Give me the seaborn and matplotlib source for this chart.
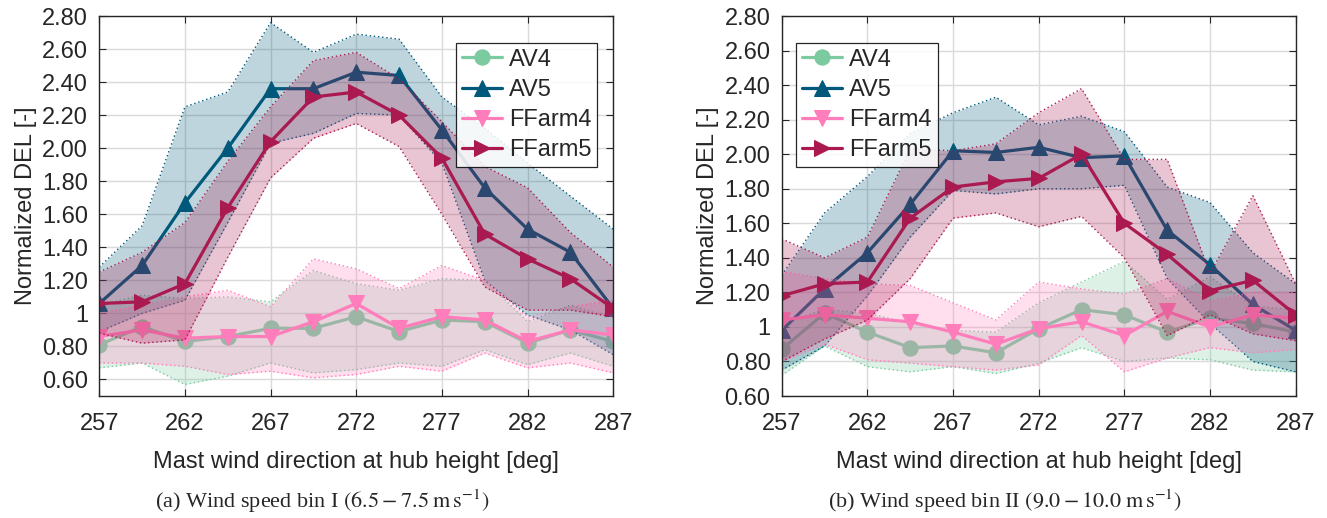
import numpy as np
import matplotlib
matplotlib.use("Agg")
import matplotlib.pyplot as plt
import seaborn as sns
from matplotlib.ticker import FuncFormatter

# ---------------- data ----------------
x_dir = [257, 259.5, 262, 264.5, 267, 269.5, 272, 274.5, 277, 279.5, 282, 284.5, 287]
x_ticks = [257, 262, 267, 272, 277, 282, 287]
series_names = ["AV4", "AV5", "FFarm4", "FFarm5"]

# Wind speed bin I
av4_I = [0.81, 0.92, 0.83, 0.86, 0.91, 0.91, 0.98, 0.89, 0.96, 0.95, 0.82, 0.90, 0.83]
av5_I = [1.06, 1.29, 1.67, 2.00, 2.36, 2.36, 2.46, 2.44, 2.11, 1.76, 1.51, 1.37, 1.03]
ff4_I = [0.86, 0.90, 0.85, 0.86, 0.86, 0.95, 1.06, 0.91, 0.98, 0.96, 0.83, 0.90, 0.87]
ff5_I = [1.06, 1.07, 1.18, 1.64, 2.04, 2.31, 2.34, 2.20, 1.94, 1.48, 1.33, 1.21, 1.03]
av4_I_lo = [0.67, 0.70, 0.57, 0.62, 0.70, 0.64, 0.66, 0.70, 0.68, 0.78, 0.69, 0.76, 0.68]
av4_I_hi = [1.05, 1.11, 1.09, 1.10, 1.07, 1.26, 1.18, 1.14, 1.21, 1.20, 0.95, 1.05, 0.97]
av5_I_lo = [0.89, 1.00, 1.08, 1.55, 2.03, 2.09, 2.21, 2.20, 1.91, 1.20, 0.99, 0.90, 0.75]
av5_I_hi = [1.28, 1.53, 2.25, 2.34, 2.76, 2.58, 2.69, 2.66, 2.31, 2.12, 1.91, 1.71, 1.51]
ff4_I_lo = [0.70, 0.70, 0.68, 0.63, 0.65, 0.61, 0.63, 0.68, 0.65, 0.76, 0.67, 0.70, 0.64]
ff4_I_hi = [1.00, 1.05, 1.10, 1.14, 1.04, 1.33, 1.27, 1.15, 1.29, 1.20, 0.98, 1.04, 1.08]
ff5_I_lo = [0.88, 0.82, 0.84, 1.34, 1.82, 2.06, 2.15, 2.01, 1.60, 1.16, 1.02, 1.02, 0.98]
ff5_I_hi = [1.25, 1.37, 1.55, 1.92, 2.25, 2.53, 2.58, 2.42, 2.16, 1.89, 1.76, 1.49, 1.28]

# Wind speed bin II
av4_II = [0.87, 1.08, 0.97, 0.88, 0.89, 0.85, 0.99, 1.10, 1.07, 0.97, 1.05, 1.02, 0.97]
av5_II = [0.98, 1.22, 1.43, 1.71, 2.02, 2.01, 2.04, 1.98, 1.99, 1.56, 1.36, 1.13, 0.98]
ff4_II = [1.04, 1.07, 1.05, 1.03, 0.97, 0.90, 0.99, 1.03, 0.95, 1.09, 1.00, 1.07, 1.05]
ff5_II = [1.18, 1.25, 1.26, 1.63, 1.81, 1.84, 1.86, 2.00, 1.60, 1.42, 1.21, 1.27, 1.07]
av4_II_lo = [0.72, 0.89, 0.77, 0.74, 0.77, 0.73, 0.79, 0.88, 0.80, 0.82, 0.81, 0.75, 0.74]
av4_II_hi = [1.02, 1.10, 1.08, 1.02, 0.98, 0.97, 1.14, 1.26, 1.38, 1.16, 1.29, 1.12, 1.10]
av5_II_lo = [0.75, 0.89, 1.18, 1.52, 1.79, 1.77, 1.80, 1.80, 1.82, 1.28, 1.02, 0.80, 0.74]
av5_II_hi = [1.30, 1.66, 1.87, 2.12, 2.24, 2.33, 2.17, 2.22, 2.13, 1.81, 1.72, 1.43, 1.25]
ff4_II_lo = [0.80, 0.90, 0.81, 0.79, 0.77, 0.75, 0.78, 0.95, 0.74, 0.82, 0.88, 0.85, 0.87]
ff4_II_hi = [1.32, 1.28, 1.25, 1.24, 1.14, 1.04, 1.26, 1.22, 1.19, 1.28, 1.15, 1.20, 1.20]
ff5_II_lo = [0.80, 0.93, 1.04, 1.28, 1.63, 1.66, 1.58, 1.64, 1.40, 0.95, 1.07, 0.96, 0.92]
ff5_II_hi = [1.51, 1.40, 1.52, 2.03, 2.02, 2.06, 2.24, 2.38, 1.97, 1.97, 1.31, 1.76, 1.25]

y_ticks = [0.6, 0.8, 1.0, 1.2, 1.4, 1.6, 1.8, 2.0, 2.2, 2.4, 2.6, 2.8]
captions = [r"(a) Wind speed bin I $(6.5-7.5\;\mathrm{m\,s^{-1}})$",
            r"(b) Wind speed bin II $(9.0-10.0\;\mathrm{m\,s^{-1}})$"]

# ---------------- style ----------------
sns.set_style("ticks")
plt.rcParams["font.family"] = ["Liberation Sans", "DejaVu Sans"]
plt.rcParams["mathtext.fontset"] = "stix"

colors = ["#7CCAA0", "#00587A", "#FF7DBA", "#AA1A50"]
markers = ["o", "^", "v", ">"]

fig = plt.figure(figsize=(13.27, 5.18), dpi=100)
ax1 = fig.add_axes([0.0748, 0.2355, 0.3873, 0.7336])
ax2 = fig.add_axes([0.5891, 0.2355, 0.3873, 0.7336])

panels = [
    (ax1, [av4_I, av5_I, ff4_I, ff5_I],
     [(av4_I_lo, av4_I_hi), (av5_I_lo, av5_I_hi), (ff4_I_lo, ff4_I_hi), (ff5_I_lo, ff5_I_hi)],
     (0.5, 2.8), (0.969, 0.930), "upper right"),
    (ax2, [av4_II, av5_II, ff4_II, ff5_II],
     [(av4_II_lo, av4_II_hi), (av5_II_lo, av5_II_hi), (ff4_II_lo, ff4_II_hi), (ff5_II_lo, ff5_II_hi)],
     (0.6, 2.8), (0.028, 0.930), "upper left"),
]

fmt = FuncFormatter(lambda v, p: "1" if abs(v - 1.0) < 1e-9 else f"{v:.2f}")

for ax, means, bands, ylim, anchor, loc in panels:
    handles = []
    for i, (name, m, (lo, hi)) in enumerate(zip(series_names, means, bands)):
        c = colors[i]
        ax.fill_between(x_dir, lo, hi, color=c, alpha=0.25, linewidth=0, zorder=2 + 2 * i)
        ax.plot(x_dir, lo, color=c, linestyle=(0, (1, 2)), linewidth=1.0, zorder=2 + 2 * i)
        ax.plot(x_dir, hi, color=c, linestyle=(0, (1, 2)), linewidth=1.0, zorder=2 + 2 * i)
        sns.lineplot(x=x_dir, y=m, ax=ax, color=c, marker=markers[i], markersize=11,
                     markeredgecolor=c, linewidth=2.3, zorder=3 + 2 * i, legend=False)
        ln = ax.lines[-1]
        ln.set_label(name)
        handles.append(ln)

    ax.set_xlim(257, 287)
    ax.set_ylim(*ylim)
    ax.set_xticks(x_ticks)
    ax.set_yticks(y_ticks)
    ax.yaxis.set_major_formatter(fmt)
    ax.grid(True, color="#DADADA", linewidth=1.0)
    ax.set_axisbelow(True)
    ax.tick_params(direction="in", top=True, right=True, length=5, width=0.8,
                   labelsize=17, colors="#262626")
    ax.tick_params(axis="x", pad=12)
    ax.tick_params(axis="y", pad=8)
    for s in ax.spines.values():
        s.set_color("#262626")
        s.set_linewidth(1.0)
        s.set_zorder(20)
    ax.set_xlabel("Mast wind direction at hub height [deg]", fontsize=17, color="#262626", labelpad=12)
    ax.set_ylabel("Normalized DEL [-]", fontsize=17, color="#262626", labelpad=4)

    leg = ax.legend(handles=handles, loc=loc, bbox_to_anchor=anchor, fontsize=17,
                    frameon=True, fancybox=False, framealpha=0.85, edgecolor="black",
                    handlelength=1.7, handletextpad=0.3, borderpad=0.25,
                    labelspacing=0.35, borderaxespad=0.0)
    leg.get_frame().set_linewidth(0.9)
    leg.set_zorder(30)

for xc, cap in zip([0.2427, 0.757], captions):
    fig.text(xc, 0.033, cap, ha="center", va="center", fontsize=16,
             family=["Liberation Serif", "DejaVu Serif"])

fig.savefig("out.png", dpi=100)
